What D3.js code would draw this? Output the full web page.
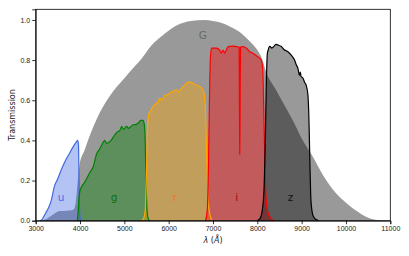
<!DOCTYPE html>
<html>
<head>
<meta charset="utf-8">
<script src="https://cdn.jsdelivr.net/npm/d3@7"></script>
<style>
  body { margin: 0; background: #fff; }
  svg { display: block; font-family: "DejaVu Sans", sans-serif; }
  .axis path, .axis line { stroke: #000; stroke-width: 0.8; }
  .axis text { fill: #222; font-size: 7px; }
</style>
</head>
<body>
<script>
// transmission curves, [wavelength in Angstrom, transmission]
var gaiaG = [[3150,0],[3250,0.01],[3350,0.025],[3450,0.04],[3550,0.048],[3700,0.05],[3800,0.052],[3870,0.06],
  [3910,0.1],[3950,0.2],[3990,0.28],[4100,0.35],[4250,0.44],[4450,0.54],[4700,0.63],[5000,0.71],[5200,0.76],
  [5400,0.81],[5600,0.87],[5900,0.93],[6200,0.975],[6500,0.995],[6800,1.0],[7000,0.995],[7200,0.985],
  [7400,0.965],[7600,0.94],[7800,0.9],[8000,0.85],[8100,0.81],[8200,0.74],[8400,0.66],[8600,0.58],[8800,0.5],
  [9000,0.41],[9250,0.32],[9500,0.22],[9780,0.136],[10000,0.09],[10300,0.04],[10500,0.015],[10700,0.003],[10900,0]];

var uBand = [[3100,0],[3140,0.005],[3180,0.02],[3230,0.04],[3300,0.07],[3350,0.1],[3420,0.17],[3500,0.21],
  [3570,0.25],[3650,0.29],[3760,0.335],[3850,0.37],[3910,0.39],[3945,0.40],[3965,0.38],[3975,0.25],
  [3985,0.1],[3995,0.03],[4010,0]];

var gBand = [[3940,0],[3960,0.05],[3980,0.12],[4000,0.15],[4040,0.17],[4100,0.19],[4150,0.21],[4220,0.24],
  [4300,0.27],[4370,0.33],[4450,0.36],[4520,0.39],[4560,0.40],[4600,0.385],[4700,0.40],[4760,0.42],
  [4830,0.44],[4900,0.45],[4940,0.47],[4980,0.455],[5050,0.47],[5100,0.46],[5150,0.47],[5200,0.478],
  [5270,0.48],[5330,0.49],[5370,0.50],[5420,0.50],[5450,0.48],[5470,0.4],[5490,0.2],[5510,0.06],
  [5540,0.01],[5580,0]];

var rBand = [[5380,0],[5430,0.01],[5470,0.05],[5500,0.25],[5520,0.45],[5550,0.53],[5600,0.55],[5650,0.57],
  [5720,0.585],[5760,0.59],[5800,0.61],[5840,0.60],[5880,0.61],[5920,0.625],[6000,0.63],[6050,0.64],
  [6100,0.643],[6170,0.652],[6220,0.642],[6270,0.655],[6330,0.668],[6400,0.685],[6460,0.69],[6520,0.688],
  [6580,0.68],[6640,0.675],[6700,0.668],[6760,0.655],[6800,0.63],[6830,0.55],[6860,0.3],[6890,0.1],
  [6930,0.03],[6980,0]];

var iBand = [[6830,0],[6870,0.05],[6900,0.3],[6920,0.6],[6940,0.8],[6965,0.86],[7080,0.86],[7150,0.85],
  [7190,0.835],[7225,0.85],[7265,0.835],[7300,0.85],[7340,0.867],[7450,0.87],[7530,0.867],[7590,0.865],
  [7598,0.5],[7603,0.33],[7610,0.5],[7620,0.865],[7680,0.867],[7750,0.86],[7830,0.842],[7900,0.834],
  [8010,0.817],[8090,0.8],[8120,0.76],[8150,0.5],[8180,0.2],[8220,0.06],[8280,0.02],[8380,0]];

var zBand = [[8000,0],[8060,0.01],[8110,0.05],[8150,0.15],[8180,0.4],[8205,0.7],[8225,0.83],[8245,0.85],
  [8280,0.868],[8330,0.86],[8360,0.865],[8420,0.878],[8470,0.875],[8540,0.868],[8615,0.85],[8690,0.842],
  [8765,0.825],[8840,0.8],[8880,0.776],[8915,0.76],[8950,0.725],[8970,0.74],[8985,0.72],[9030,0.71],
  [9065,0.69],[9100,0.676],[9140,0.63],[9165,0.5],[9185,0.3],[9210,0.1],[9250,0.03],[9300,0.01],[9380,0]];

var bandNames = ['u', 'g', 'r', 'i', 'z'];
var bandCurves = [uBand, gBand, rBand, iBand, zBand];
var bandColors = ['royalblue', 'green', 'orange', 'red', 'black'];
var labelColors = ['#4a6ee0', '#0f700f', '#e8782a', '#9a1010', '#111'];
var labelWave = [3570, 4770, 6140, 7535, 8750];
var labelY = 0.118;

var xTicks = [3000, 4000, 5000, 6000, 7000, 8000, 9000, 10000, 11000];
var yTicks = [0.0, 0.2, 0.4, 0.6, 0.8, 1.0];

var width = 409, height = 256;
var margin = { top: 9.3, right: 18.7, bottom: 35.3, left: 35.7 };

var svg = d3.select('body').append('svg')
    .attr('width', width)
    .attr('height', height);

var x = d3.scaleLinear().domain([3000, 11000]).range([margin.left, width - margin.right]);
var y = d3.scaleLinear().domain([0, 1.053]).range([height - margin.bottom, margin.top]);

var area = d3.area()
    .x(function (d) { return x(d[0]); })
    .y0(y(0))
    .y1(function (d) { return y(d[1]); })
    .curve(d3.curveMonotoneX);
var line = d3.line()
    .x(function (d) { return x(d[0]); })
    .y(function (d) { return y(d[1]); })
    .curve(d3.curveMonotoneX);

var plot = svg.append('g');

// broad G band underneath
plot.append('path')
    .attr('d', area(gaiaG))
    .attr('fill', 'gray')
    .attr('fill-opacity', 0.8);

plot.append('text')
    .attr('x', x(6770))
    .attr('y', y(0.925))
    .attr('dy', '0.35em')
    .attr('text-anchor', 'middle')
    .attr('font-size', '10.5px')
    .attr('fill', '#6a6a6a')
    .text('G');

bandCurves.forEach(function (c, k) {
    plot.append('path')
        .attr('d', area(c))
        .attr('fill', bandColors[k])
        .attr('fill-opacity', 0.4);
});
bandCurves.forEach(function (c, k) {
    plot.append('path')
        .attr('d', line(c))
        .attr('fill', 'none')
        .attr('stroke', bandColors[k])
        .attr('stroke-width', 1.2)
        .attr('stroke-linejoin', 'round');
});

plot.selectAll('.blabel')
    .data(bandNames)
    .enter().append('text')
    .attr('class', 'blabel')
    .attr('x', function (d, k) { return x(labelWave[k]); })
    .attr('y', y(labelY))
    .attr('dy', '0.35em')
    .attr('text-anchor', 'middle')
    .attr('font-size', '10.5px')
    .attr('fill', function (d, k) { return labelColors[k]; })
    .text(function (d) { return d; });

// axes
svg.append('g')
    .attr('class', 'axis')
    .attr('transform', 'translate(0,' + y(0) + ')')
    .call(d3.axisBottom(x).tickValues(xTicks).tickSize(3.5).tickPadding(2).tickFormat(d3.format('d')));

svg.append('g')
    .attr('class', 'axis')
    .attr('transform', 'translate(' + x(3000) + ',0)')
    .call(d3.axisLeft(y).tickValues(yTicks).tickSize(3.5).tickPadding(2).tickFormat(d3.format('.1f')));

// frame
svg.append('rect')
    .attr('x', x(3000))
    .attr('y', y(1.053))
    .attr('width', x(11000) - x(3000))
    .attr('height', y(0) - y(1.053))
    .attr('fill', 'none')
    .attr('stroke', '#000')
    .attr('stroke-width', 0.8);

svg.append('text')
    .attr('x', (x(3000) + x(11000)) / 2)
    .attr('y', 243)
    .attr('text-anchor', 'middle')
    .attr('font-size', '8px')
    .attr('fill', '#222')
    .html('<tspan font-style="italic">λ</tspan> (<tspan font-style="italic">Å</tspan>)');

svg.append('text')
    .attr('transform', 'translate(15,' + (y(0) + y(1.053)) / 2 + ') rotate(-90)')
    .attr('text-anchor', 'middle')
    .attr('font-size', '8px')
    .attr('fill', '#222')
    .text('Transmission');
</script>
</body>
</html>
